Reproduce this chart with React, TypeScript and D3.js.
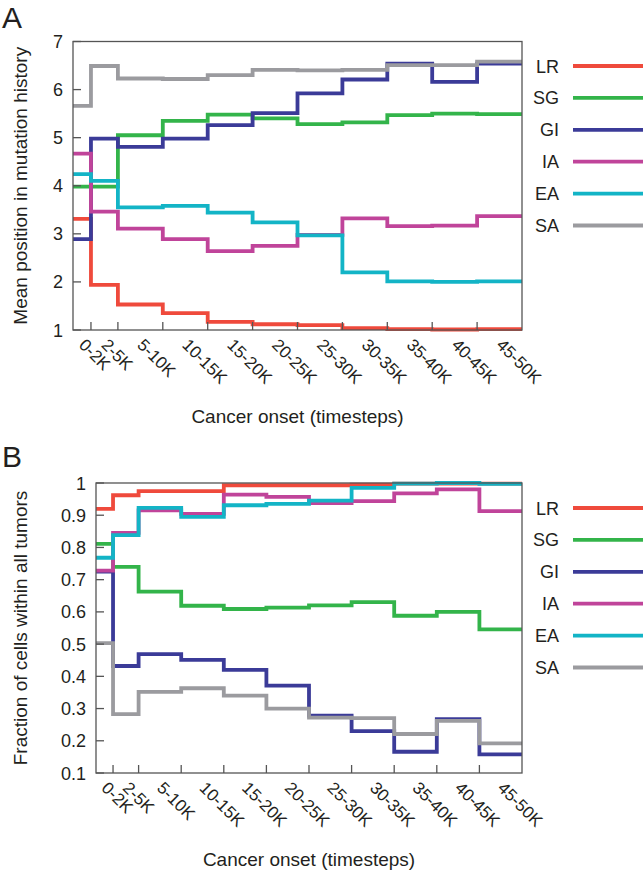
import React from "react";
import * as d3 from "d3";

const bins = ["0-2K", "2-5K", "5-10K", "10-15K", "15-20K", "20-25K", "25-30K", "30-35K", "35-40K", "40-45K", "45-50K"];
const binEdges = [0, 2, 5, 10, 15, 20, 25, 30, 35, 40, 45, 50];
const seriesNames = ["LR", "SG", "GI", "IA", "EA", "SA"];
const seriesColors = ["#EF4A3C", "#33B44A", "#3B3B98", "#C0449A", "#13B4C6", "#9B9B9F"];

// Panel A: mean position in mutation history
const aLR = [3.31, 1.94, 1.53, 1.35, 1.17, 1.12, 1.1, 1.04, 1.02, 1.01, 1.02];
const aSG = [3.98, 3.98, 5.05, 5.35, 5.48, 5.4, 5.28, 5.32, 5.47, 5.5, 5.49];
const aGI = [2.89, 4.98, 4.81, 4.98, 5.26, 5.51, 5.92, 6.21, 6.54, 6.16, 6.54];
const aIA = [4.67, 3.46, 3.11, 2.89, 2.64, 2.75, 2.98, 3.32, 3.16, 3.17, 3.37];
const aEA = [4.24, 4.1, 3.55, 3.58, 3.44, 3.24, 2.97, 2.2, 2.01, 2.0, 2.01];
const aSA = [5.66, 6.49, 6.23, 6.22, 6.3, 6.41, 6.4, 6.41, 6.51, 6.51, 6.58];
const aTicks = [1, 2, 3, 4, 5, 6, 7];

// Panel B: fraction of cells within all tumors
const bLR = [0.92, 0.962, 0.975, 0.975, 0.993, 0.993, 0.993, 0.995, 0.998, 0.998, 0.998];
const bSG = [0.811, 0.74, 0.663, 0.619, 0.609, 0.613, 0.62, 0.63, 0.588, 0.6, 0.546];
const bGI = [0.725, 0.432, 0.469, 0.451, 0.42, 0.371, 0.278, 0.23, 0.166, 0.267, 0.158];
const bIA = [0.728, 0.845, 0.915, 0.904, 0.964, 0.957, 0.938, 0.944, 0.968, 0.98, 0.913];
const bEA = [0.768, 0.838, 0.923, 0.895, 0.931, 0.935, 0.945, 0.985, 0.998, 1.0, 0.997];
const bSA = [0.503, 0.283, 0.352, 0.363, 0.34, 0.3, 0.272, 0.27, 0.221, 0.262, 0.192];
const bTicks = [0.1, 0.2, 0.3, 0.4, 0.5, 0.6, 0.7, 0.8, 0.9, 1];

const FONT = "'Liberation Sans', Arial, Helvetica, sans-serif";
const TEXT = "#231F20";
const FRAME = "#555";

type PanelProps = {
  label: string;
  labelY: number;
  left: number;
  right: number;
  top: number;
  bottom: number;
  yDomain: [number, number];
  yTicks: number[];
  yFmt: (v: number) => string;
  data: number[][];
  yTitle: string;
  legendY0: number;
};

function Panel(p: PanelProps) {
  const x = d3.scaleLinear().domain([0, 50]).range([p.left, p.right]);
  const y = d3.scaleLinear().domain(p.yDomain).range([p.bottom, p.top]);
  const line = d3
    .line<[number, number]>()
    .x((d) => x(d[0]))
    .y((d) => y(d[1]))
    .curve(d3.curveStepAfter);
  const interior = binEdges.slice(1, -1);
  const centers = bins.map((_, i) => (binEdges[i] + binEdges[i + 1]) / 2);
  const midX = (p.left + p.right) / 2;
  const midY = (p.top + p.bottom) / 2;
  return (
    <g>
      <text x={2} y={p.labelY} fontSize={30} fill={TEXT} fontFamily={FONT}>
        {p.label}
      </text>
      {/* data lines */}
      {p.data.map((vals, si) => {
        const pts: [number, number][] = vals.map((v, i) => [binEdges[i], v]);
        pts.push([50, vals[vals.length - 1]]);
        return (
          <path
            key={si}
            d={line(pts) || ""}
            fill="none"
            stroke={seriesColors[si]}
            strokeWidth={3.8}
            strokeLinejoin="miter"
            strokeLinecap="butt"
          />
        );
      })}
      {/* frame */}
      <rect
        x={p.left}
        y={p.top}
        width={p.right - p.left}
        height={p.bottom - p.top}
        fill="none"
        stroke={FRAME}
        strokeWidth={1.3}
      />
      {/* y ticks */}
      {p.yTicks.map((t) => (
        <g key={t}>
          <line x1={p.left} x2={p.left + 8} y1={y(t)} y2={y(t)} stroke={FRAME} strokeWidth={1.3} />
          <text
            x={p.left - 10}
            y={y(t) + 6.5}
            textAnchor="end"
            fontSize={18}
            fill={TEXT}
            fontFamily={FONT}
          >
            {p.yFmt(t)}
          </text>
        </g>
      ))}
      {/* x ticks */}
      {interior.map((t) => (
        <line key={t} x1={x(t)} x2={x(t)} y1={p.bottom} y2={p.bottom - 8} stroke={FRAME} strokeWidth={1.3} />
      ))}
      {bins.map((b, i) => {
        const ax = x(centers[i]) - 4;
        const ay = p.bottom + 16;
        return (
          <text
            key={b}
            x={ax}
            y={ay}
            transform={`rotate(45 ${ax} ${ay})`}
            fontSize={17}
            fill={TEXT}
            fontFamily={FONT}
          >
            {b}
          </text>
        );
      })}
      {/* axis titles */}
      <text
        x={midX}
        y={p.bottom + 93}
        textAnchor="middle"
        fontSize={19}
        fill={TEXT}
        fontFamily={FONT}
      >
        Cancer onset (timesteps)
      </text>
      <text
        transform={`translate(27 ${midY}) rotate(-90)`}
        textAnchor="middle"
        fontSize={19}
        fill={TEXT}
        fontFamily={FONT}
      >
        {p.yTitle}
      </text>
      {/* legend */}
      {seriesNames.map((n, i) => {
        const ly = p.legendY0 + i * 31.9;
        return (
          <g key={n}>
            <text x={559} y={ly + 6.5} textAnchor="end" fontSize={18} fill={TEXT} fontFamily={FONT}>
              {n}
            </text>
            <line x1={573} x2={650} y1={ly} y2={ly} stroke={seriesColors[i]} strokeWidth={3.8} />
          </g>
        );
      })}
    </g>
  );
}

export default function App() {
  return (
    <svg
      width={643}
      height={870}
      style={{ position: "absolute", left: 0, top: 0, background: "#fff" }}
    >
      <rect x={0} y={0} width={643} height={870} fill="#fff" />
      <Panel
        label="A"
        labelY={28}
        left={73}
        right={522}
        top={41.5}
        bottom={330}
        yDomain={[1, 7]}
        yTicks={aTicks}
        yFmt={(v) => String(v)}
        data={[aLR, aSG, aGI, aIA, aEA, aSA]}
        yTitle="Mean position in mutation history"
        legendY0={66}
      />
      <Panel
        label="B"
        labelY={467}
        left={96}
        right={522}
        top={483}
        bottom={773}
        yDomain={[0.1, 1]}
        yTicks={bTicks}
        yFmt={(v) => (v === 1 ? "1" : d3.format(".1f")(v))}
        data={[bLR, bSG, bGI, bIA, bEA, bSA]}
        yTitle="Fraction of cells within all tumors"
        legendY0={508}
      />
    </svg>
  );
}
